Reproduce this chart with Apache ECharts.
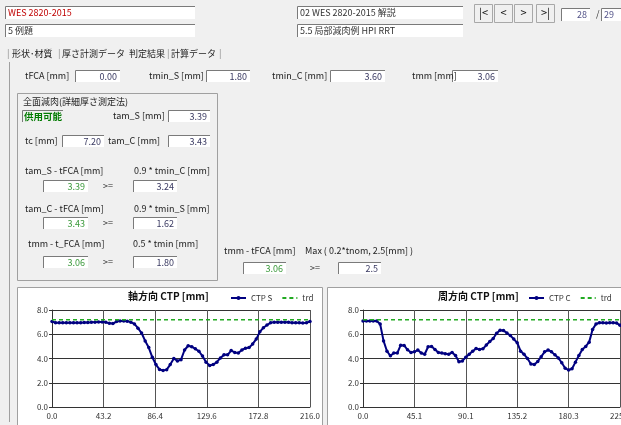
<!DOCTYPE html>
<html><head><meta charset="utf-8">
<script src="https://cdn.jsdelivr.net/npm/echarts@6/dist/echarts.min.js"></script>
<style>html,body{margin:0;padding:0;background:#f0f0f0}#c{width:621px;height:425px}</style>
</head><body><div id="c"></div>
<script>
// ---- data ----
const axialStep = 3.0;                 // mm between axial readings
const ctpS = [7.05,6.95,6.95,6.95,6.95,6.95,6.95,6.95,6.95,6.97,
  6.97,6.98,7.0,7.02,7.02,7.0,6.9,6.88,7.05,7.1,
  7.1,7.08,7.0,6.85,6.5,6.1,5.45,4.9,4.1,3.5,
  3.1,3.02,3.08,3.5,4.0,3.8,3.9,4.7,5.05,4.97,
  4.8,4.6,4.2,3.7,3.42,3.5,3.7,4.05,4.3,4.3,
  4.65,4.5,4.45,4.7,4.85,4.9,5.2,5.6,6.2,6.54,
  6.76,6.95,7.0,7.0,7.0,6.98,6.98,6.95,6.95,6.95,
  6.92,6.95,7.05];
const circLength = 225.35;
const ctpC = [7.1,7.1,7.1,7.1,7.1,6.85,5.45,4.6,4.22,4.45,
  4.45,5.1,5.08,4.72,4.5,4.55,4.7,4.45,4.35,4.97,
  5.0,4.75,4.5,4.45,4.4,4.35,4.5,4.25,3.74,3.8,
  4.1,4.35,4.6,4.82,4.75,4.8,5.11,5.4,5.65,6.08,
  6.33,6.3,6.1,5.9,5.6,5.3,4.6,4.35,4.0,3.55,
  3.5,3.75,4.15,4.55,4.7,4.56,4.3,4.05,3.65,3.2,
  3.05,3.15,3.7,4.25,4.75,5.0,5.35,6.4,6.85,6.95,
  6.95,6.92,6.95,6.95,6.92,6.75];
const trdValue = 7.2;
const axialTicks = ['0.0','43.2','86.4','129.6','172.8','216.0'];
const circTicks = ['0.0','45.1','90.1','135.2','180.3','225.4'];
const yTicks = ['0.0','2.0','4.0','6.0','8.0'];
const chartTitles = ['軸方向 CTP [mm]','周方向 CTP [mm]'];

// ---- build ----
const FONT = '"Noto Sans CJK JP","Noto Sans",sans-serif';
const els = [];
function txt(x,y,s,o){o=o||{};els.push({type:'text',x:x,y:y,z:20,style:{text:s,fill:o.color||'#222',font:(o.weight||'normal')+' '+(o.size||9)+'px '+FONT,textAlign:o.align||'left',align:o.align||'left',textVerticalAlign:'middle',verticalAlign:'middle'}});}
function rect(x,y,w,h,fill,stroke,z){els.push({type:'rect',z:z||5,shape:{x:x,y:y,width:w,height:h},style:{fill:fill,stroke:stroke||null,lineWidth:1}});}
function line(x1,y1,x2,y2,c,z){els.push({type:'line',z:z||6,shape:{x1:x1,y1:y1,x2:x2,y2:y2},style:{stroke:c,lineWidth:1}});}
function edit(x,y,w,h,val,color,align){
  rect(x,y,w,h,'#ffffff');
  line(x+0.5,y+0.5,x+w,y+0.5,'#7a7a7a');
  line(x+0.5,y+0.5,x+0.5,y+h,'#7a7a7a');
  if(val!==undefined){
    if(align==='left') txt(x+3,y+h/2+0.5,val,{color:color});
    else txt(x+w-3,y+h/2+0.5,val,{color:color,align:'right'});
  }
}
function button(x,y,w,h,s){
  rect(x+0.5,y+0.5,w,h,'#f0f0f0','#a8a8a8');
  txt(x+w/2+0.5,y+h/2,s,{align:'center',size:11,color:'#111'});
}
const VAL='#3a3a62', GRN='#3b9a3b';
// header
edit(5,6,190,13,'WES 2820-2015','#c00000','left');
edit(297,6,166,13,'02 WES 2820-2015 解説','#333','left');
edit(5,24,190,13,'5 例題','#333','left');
edit(297,24,166,13,'5.5 局部減肉例 HPI RRT','#333','left');
button(474,4,18,18,'|<');button(494,4,18,18,'<');button(514,4,18,18,'>');button(536,4,18,18,'>|');
edit(561,8,29,13,'28','#55558a');
txt(596,14,'/',{color:'#333'});
edit(601,8,30,13,'29','#55558a','left');
// tabs
txt(7,54,'|',{color:'#888'});
txt(12,54,'形状･材質',{});
txt(58,54,'|',{color:'#888'});
txt(62,54,'厚さ計測データ',{});
txt(129,54,'判定結果',{});
txt(167,54,'|',{color:'#888'});
txt(171,54,'計算データ',{});
txt(219,54,'|',{color:'#888'});
line(9.5,62,9.5,422,'#a0a0a0');
// first row
txt(25,76,'tFCA [mm]');edit(75,70,45,12,'0.00',VAL);
txt(149,76,'tmin_S [mm]');edit(206,70,44,12,'1.80',VAL);
txt(272,76,'tmin_C [mm]');edit(330,70,55,12,'3.60',VAL);
txt(412,76,'tmm [mm]');edit(452,70,46,12,'3.06',VAL);
// group box
rect(17.5,93.5,200,187,null,'#a0a0a0',4);
txt(23,102,'全面減肉(詳細厚さ測定法)');
rect(22,110,41,12,'#f0f0f0');line(22.5,110.5,63,110.5,'#7a7a7a');line(22.5,110.5,22.5,122,'#7a7a7a');
txt(24,116.5,'供用可能',{color:'#007a00',weight:'bold',size:9.5});
txt(113,116,'tam_S [mm]');edit(168,110,42,12,'3.39',VAL);
txt(25,141,'tc [mm]');edit(62,135,42,12,'7.20',VAL);
txt(108,141,'tam_C [mm]');edit(168,135,42,12,'3.43',VAL);
txt(25,171,'tam_S - tFCA [mm]');txt(134,171,'0.9 * tmin_C [mm]');
edit(43,180,45,12,'3.39',GRN);txt(103,186,'>=');edit(133,180,44,12,'3.24',VAL);
txt(25,209,'tam_C - tFCA [mm]');txt(134,209,'0.9 * tmin_S [mm]');
edit(43,217,45,12,'3.43',GRN);txt(103,223,'>=');edit(133,217,44,12,'1.62',VAL);
txt(28,244,'tmm - t_FCA [mm]');txt(133,244,'0.5 * tmin [mm]');
edit(43,256,45,12,'3.06',GRN);txt(103,262,'>=');edit(133,256,44,12,'1.80',VAL);
txt(224,251,'tmm - tFCA [mm]');txt(305,251,'Max ( 0.2*tnom, 2.5[mm] )');
edit(243,262,43,12,'3.06',GRN);txt(310,268,'>=');edit(338,262,43,12,'2.5',VAL);
// chart panels
rect(17.5,287.5,305,140,'#ffffff','#a0a0a0',-20);
rect(327.5,287.5,300,140,'#ffffff','#a0a0a0',-20);
txt(128,296,chartTitles[0],{weight:'bold',size:10,color:'#111'});
txt(438,296,chartTitles[1],{weight:'bold',size:10,color:'#111'});

const axialData = ctpS.map((v,i)=>[i*axialStep,v]);
const circStep = circLength/(ctpC.length-1);
const circData = ctpC.map((v,i)=>[i*circStep,v]);
function xAx(gi,max,interval,ticks){
  return {type:'value',gridIndex:gi,min:0,max:max,interval:interval,
    axisLine:{show:true,lineStyle:{color:'#333'}},axisTick:{show:false},
    axisLabel:{fontSize:8,color:'#333',margin:5,fontFamily:FONT,showMaxLabel:true,alignMaxLabel:'center',alignMinLabel:'center',
      formatter:v=>ticks[Math.round(v/interval)]||''},
    splitLine:{show:true,lineStyle:{color:'#555',width:1}}};
}
function yAx(gi){
  return {type:'value',gridIndex:gi,min:0,max:8,interval:2,
    axisLine:{show:true,lineStyle:{color:'#333'}},axisTick:{show:true,length:3,lineStyle:{color:'#333'}},
    axisLabel:{fontSize:8,color:'#333',margin:4,fontFamily:FONT,formatter:v=>yTicks[Math.round(v/2)]},
    splitLine:{show:true,lineStyle:{color:'#333',width:1}}};
}
function ctpSeries(name,gi,data){
  return {name:name,type:'line',xAxisIndex:gi,yAxisIndex:gi,data:data,symbol:'circle',symbolSize:3.5,
    lineStyle:{color:'#000080',width:2},itemStyle:{color:'#000080'},z:3};
}
function trdSeries(gi,max){
  return {name:'trd',type:'line',xAxisIndex:gi,yAxisIndex:gi,data:[[0,trdValue],[max,trdValue]],symbol:'none',
    lineStyle:{color:'#22aa22',width:1.5,type:[4,3]},itemStyle:{color:'#22aa22'},z:4};
}
const legendBase = {orient:'horizontal',itemWidth:15,itemHeight:5,itemGap:9,padding:0,width:120,
  textStyle:{fontSize:8,color:'#333',fontFamily:FONT},selectedMode:false};
const trdItem = {name:'trd',itemStyle:{opacity:0}};
const chart = echarts.init(document.getElementById('c'),null,{renderer:'canvas'});
chart.setOption({
  backgroundColor:'#f0f0f0',animation:false,
  textStyle:{fontFamily:FONT},
  graphic:els,
  grid:[{left:52,right:311,top:310,bottom:18,outerBoundsMode:'none',containLabel:false},
        {left:363,right:1,top:310,bottom:18,outerBoundsMode:'none',containLabel:false}],
  xAxis:[xAx(0,216,43.2,axialTicks),xAx(1,circLength,circLength/5,circTicks)],
  yAxis:[yAx(0),yAx(1)],
  legend:[Object.assign({},legendBase,{left:230,top:294,data:['CTP S',trdItem]}),
          Object.assign({},legendBase,{left:528,top:294,data:['CTP C',trdItem]})],
  series:[ctpSeries('CTP S',0,axialData),trdSeries(0,216),
          ctpSeries('CTP C',1,circData),trdSeries(1,circLength)]
});
</script></body></html>
